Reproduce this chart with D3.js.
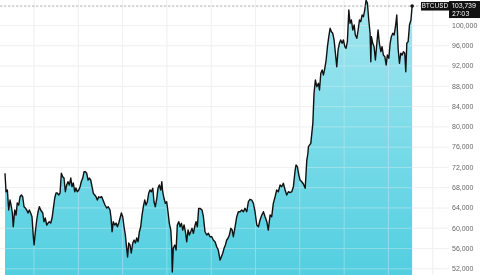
<!DOCTYPE html>
<html>
<head>
<meta charset="utf-8">
<script src="https://cdn.jsdelivr.net/npm/d3@7"></script>
<style>
  html, body { margin: 0; padding: 0; background: #fff; }
  svg { display: block; font-family: Inter, "Noto Sans", sans-serif; }
  .grid line { stroke: #f1f1f1; stroke-width: 1; }
  .grid path { display: none; }
  .yaxis path { display: none; }
  .yaxis text { fill: #666666; font-size: 7px; }
</style>
</head>
<body>
<div id="chart"></div>
<script>
// days since start of the window, and BTCUSD price
var days = [0,0.7,1.6,2.5,3.4,4.1,5.0,5.6,6.6,7.5,8.3,9.3,10.2,11.1,12.0,12.9,13.8,14.7,15.6,16.5,17.4,18.3,19.2,19.7,20.5,21.5,22.4,23.3,24.2,25.6,26.4,27.3,28.3,29.2,30.0,31.0,31.9,32.8,33.7,34.6,35.5,36.4,37.3,38.2,39.1,40.0,40.9,41.8,42.7,43.6,44.6,45.4,46.3,47.3,48.1,49.0,50.0,50.9,51.7,52.7,53.6,54.5,55.4,56.3,57.2,58.1,59.0,59.9,60.8,61.7,62.6,63.5,64.4,65.6,66.7,67.8,69.0,70.0,71.2,71.9,72.6,73.4,74.4,75.3,76.2,77.1,78.0,78.9,79.8,80.7,81.6,82.5,83.1,83.9,84.8,85.6,86.6,87.5,88.4,89.3,90.2,91.1,92.0,92.9,93.8,94.7,95.6,96.5,97.4,98.3,99.2,100.2,101.0,101.9,102.9,103.7,104.6,105.6,106.3,106.9,107.8,108.7,109.6,110.5,111.4,112.4,113.0,113.4,114.1,115.1,116.0,116.8,117.8,118.7,119.6,120.5,121.4,122.3,123.2,124.1,125.0,125.9,126.8,127.7,128.6,129.5,130.4,131.3,132.2,133.6,134.5,135.6,136.8,137.9,139.0,140.2,141.2,142.4,143.5,144.6,145.8,146.7,147.6,148.5,149.4,150.3,151.2,152.1,153.1,154.0,154.8,156.0,157.1,158.2,159.4,160.5,161.6,162.7,163.9,165.0,166.1,167.3,168.4,169.5,170.7,171.8,172.9,174.1,175.2,176.3,177.5,178.5,179.7,180.8,181.9,183.1,184.2,185.3,186.5,187.6,188.7,189.9,191.0,192.1,193.3,194.4,195.5,196.7,197.3,198.2,199.2,200.0,201.2,202.3,203.5,204.6,205.3,205.7,207.3,208.7,209.5,210.4,211.4,212.5,213.2,214.1,215.0,215.9,216.8,217.7,218.6,219.5,220.4,221.3,222.2,223.1,224.0,224.9,225.8,226.7,227.6,228.5,229.4,230.4,231.2,232.1,233.1,233.9,234.8,235.8,236.7,237.5,238.5,239.4,240.3,241.2,242.1,243.0,243.9,244.8,245.7,246.6,247.5,248.0,248.4,249.3,250.2,251.1,252.1,252.9,253.8,254.8,255.6,256.5,257.5,258.4,259.2,260.2,261.1,261.9,262.9,263.8,264.7,265.6,266.5,267.4,268.3,269.2,270.1,271.0,271.7,272.4,273.3,274.2,275.2,276.0];

var prices = [70740,67110,67445,63500,65470,64490,62910,60200,63500,62510,64880,64490,66120,66460,66120,64150,63890,63500,62910,63500,62910,62180,58230,56590,58960,61530,63160,64150,63500,62910,61190,61920,60540,60930,61190,60930,61920,63890,65870,66850,66850,66460,66850,70740,70070,69810,67110,68430,69080,68430,69810,68100,68830,67110,67840,67110,67445,68100,69080,69810,71060,71060,70740,69420,69810,69420,68100,66790,66460,66120,65470,66120,65970,66120,65280,64490,63890,64150,63500,61920,59220,61190,60540,60930,60200,60930,61920,62910,62180,60200,58570,55940,54230,56990,56590,55020,56990,57580,56990,57980,57250,59220,60200,62510,64150,65470,64490,65140,66790,67445,67110,67780,65140,64150,65810,67780,68430,67445,69080,67110,65810,64820,65140,63160,60880,59550,56590,51270,56000,56590,55610,60540,61190,60200,60880,59550,60540,59220,57250,59550,58570,59220,59890,58900,60200,61190,60200,63830,63830,63500,62180,59220,58570,58900,58230,58230,57580,57250,56260,55610,53630,54290,54960,55940,56590,57580,57920,58570,59890,59550,58230,60200,62180,63160,63160,63500,63160,63830,63160,65140,65610,65470,64820,63160,60540,60200,61530,62510,63160,62180,61190,59550,62510,62180,64820,66120,67445,67110,68430,68100,68770,67445,66460,67110,66950,67110,68100,71390,72380,72050,70400,69420,69080,68630,67780,73360,74550,75990,76660,80610,86520,89150,87830,88500,87180,90470,91120,90140,91460,93090,95720,97690,99350,98680,98360,97040,94420,91770,95070,96390,97040,96390,97040,95720,95400,96710,102960,100340,100990,99010,100000,98030,97380,99010,100990,100650,101970,101640,102960,104900,104280,100990,98360,92760,97690,96390,95720,93090,96390,99010,96390,94730,95720,94080,93750,92110,94080,93430,96390,97690,98360,98030,99660,101970,95400,92440,94420,94080,94730,94420,90790,96390,96710,100000,100990,103739];

var priceTicks = [52000,56000,60000,64000,68000,72000,76000,80000,84000,88000,92000,96000,100000];
var gridDays = [19.3,49.4,79.4,109.4,139.5,169.5,199.5,229.6,259.6,289.7];
var symbol = "BTCUSD";
var lastPrice = 103739;
var countdown = "27:03";

var W = 487, H = 275;
var plotLeft = 5, plotRight = 449;

var data = days.map(function(d, i) { return {day: d, price: prices[i]}; });

var x = d3.scaleLinear().domain([0, 301]).range([plotLeft, plotRight]);
var y = d3.scaleLinear().domain([50680, 104930]).range([H, 0]);

var svg = d3.select("#chart").append("svg")
  .attr("width", W)
  .attr("height", H);

var defs = svg.append("defs");
var grad = defs.append("linearGradient")
  .attr("id", "areaFill")
  .attr("x1", 0).attr("y1", 0).attr("x2", 0).attr("y2", 1);
grad.append("stop").attr("offset", "0%").attr("stop-color", "#a3e7f0");
grad.append("stop").attr("offset", "100%").attr("stop-color", "#52cfe0");

defs.append("clipPath").attr("id", "plotClip")
  .append("rect").attr("x", 0).attr("y", 0).attr("width", plotRight).attr("height", H);

// grid
svg.append("g")
  .attr("class", "grid")
  .call(d3.axisLeft(y).tickValues(priceTicks).tickSize(-plotRight).tickFormat(""));

svg.append("g")
  .attr("class", "grid")
  .attr("transform", "translate(0," + H + ")")
  .call(d3.axisBottom(x).tickValues(gridDays).tickSize(H).tickFormat(""))
  .selectAll("line").attr("y2", -H);

var plot = svg.append("g").attr("clip-path", "url(#plotClip)");

var area = d3.area()
  .x(function(d) { return x(d.day); })
  .y0(H)
  .y1(function(d) { return y(d.price); });

var line = d3.line()
  .x(function(d) { return x(d.day); })
  .y(function(d) { return y(d.price); });

plot.append("path")
  .datum(data)
  .attr("d", area)
  .attr("fill", "url(#areaFill)");

// faint grid showing through the fill
var through = plot.append("g").attr("opacity", 0.35);
through.append("g")
  .attr("class", "grid")
  .call(d3.axisLeft(y).tickValues(priceTicks).tickSize(-plotRight).tickFormat(""))
  .selectAll("line").attr("stroke", "#8fd6e2");
through.append("g")
  .attr("class", "grid")
  .attr("transform", "translate(0," + H + ")")
  .call(d3.axisBottom(x).tickValues(gridDays).tickSize(H).tickFormat(""))
  .selectAll("line").attr("y2", -H).attr("stroke", "#8fd6e2");

plot.append("path")
  .datum(data)
  .attr("d", line)
  .attr("fill", "none")
  .attr("stroke", "#111")
  .attr("stroke-width", 1.4)
  .attr("stroke-linejoin", "round");

// last price line + marker
var last = data[data.length - 1];
svg.append("line")
  .attr("x1", 0).attr("x2", 421)
  .attr("y1", y(lastPrice)).attr("y2", y(lastPrice))
  .attr("stroke", "#a0a0a0")
  .attr("stroke-width", 0.8)
  .attr("stroke-dasharray", "2.5,1.5");

svg.append("circle")
  .attr("cx", x(last.day)).attr("cy", y(last.price))
  .attr("r", 1.8).attr("fill", "#111");

// y axis labels
svg.append("g")
  .attr("class", "yaxis")
  .attr("transform", "translate(" + plotRight + ",0)")
  .call(d3.axisRight(y).tickValues(priceTicks).tickSize(0).tickPadding(3).tickFormat(d3.format(",")));

// symbol tag and price tag
var ly = y(lastPrice);
svg.append("rect")
  .attr("x", 421).attr("y", ly - 4).attr("width", 28).attr("height", 8.5)
  .attr("fill", "#111");
svg.append("text")
  .attr("x", 435).attr("y", ly + 2.3)
  .attr("text-anchor", "middle")
  .attr("fill", "#fff").attr("font-size", 6.5)
  .text(symbol);

svg.append("rect")
  .attr("x", plotRight).attr("y", ly - 5).attr("width", 31).attr("height", 17)
  .attr("fill", "#111");
svg.append("text")
  .attr("x", plotRight + 3).attr("y", ly + 2)
  .attr("fill", "#fff").attr("font-size", 6.5)
  .text(d3.format(",")(lastPrice));
svg.append("text")
  .attr("x", plotRight + 3).attr("y", ly + 9.5)
  .attr("fill", "#fff").attr("font-size", 6.5)
  .text(countdown);
</script>
</body>
</html>
